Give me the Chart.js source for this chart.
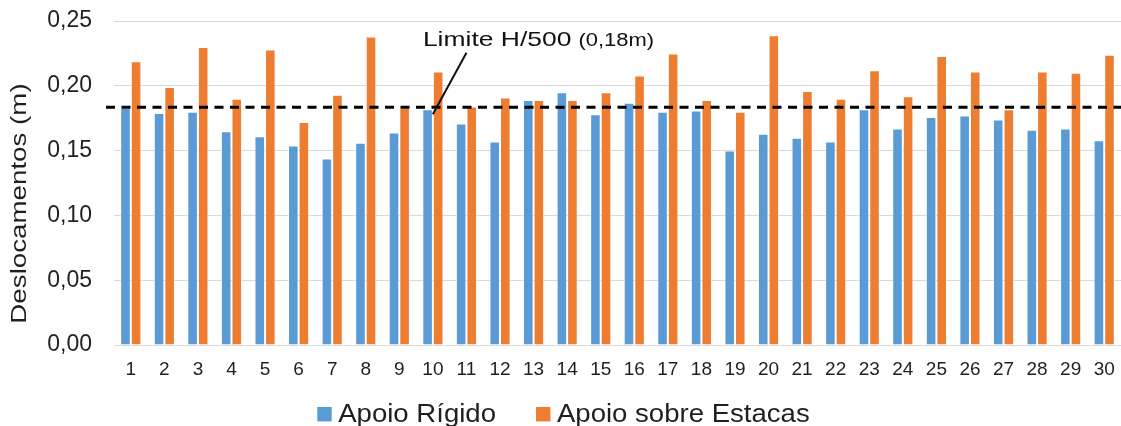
<!DOCTYPE html>
<html lang="pt">
<head>
<meta charset="utf-8">
<title>Deslocamentos</title>
<script src="https://cdn.jsdelivr.net/npm/chart.js@4.4.1/dist/chart.umd.min.js"></script>
<style>
  html, body { margin: 0; padding: 0; background: #ffffff; }
  #wrap { width: 1121px; height: 426px; position: relative; }
</style>
</head>
<body>
<div id="wrap"><canvas id="chart"></canvas></div>
<script>
// Pórticos analisados (1 a 30)
const categories = ['1','2','3','4','5','6','7','8','9','10','11','12','13','14','15',
                    '16','17','18','19','20','21','22','23','24','25','26','27','28','29','30'];

// Deslocamento no topo (m) – apoio rígido
const apoioRigido = [0.183, 0.179, 0.180, 0.165, 0.161, 0.154, 0.144, 0.156, 0.164, 0.182,
                     0.171, 0.157, 0.189, 0.195, 0.178, 0.187, 0.180, 0.181, 0.150, 0.163,
                     0.160, 0.157, 0.182, 0.167, 0.176, 0.177, 0.174, 0.166, 0.167, 0.158];

// Deslocamento no topo (m) – apoio sobre estacas
const apoioEstacas = [0.219, 0.199, 0.230, 0.190, 0.228, 0.172, 0.193, 0.238, 0.183, 0.211,
                      0.184, 0.191, 0.189, 0.189, 0.195, 0.208, 0.225, 0.189, 0.180, 0.239,
                      0.196, 0.190, 0.212, 0.192, 0.223, 0.211, 0.182, 0.211, 0.210, 0.224];

// Rótulos do eixo vertical
const yTickLabels = ['0,00', '0,05', '0,10', '0,15', '0,20', '0,25'];

// Limite de deslocamento H/500
const limiteH500 = 0.1835;
const limiteTexto = 'Limite H/500';
const limiteValor = '(0,18m)';
const yTitle = 'Deslocamentos (m)';

const FONT = "'Liberation Sans', Arial, sans-serif";
const TEXT_COLOR = '#1f1f1f';

// Texto com largura de glifo alargada (sx = fator horizontal)
function wideText(ctx, text, x, y, size, sx, align) {
  ctx.save();
  ctx.font = size + 'px ' + FONT;
  ctx.textAlign = align || 'left';
  ctx.textBaseline = 'alphabetic';
  ctx.translate(x, y);
  ctx.scale(sx, 1);
  ctx.fillText(text, 0, 0);
  const w = ctx.measureText(text).width * sx;
  ctx.restore();
  return w;
}

// Linha limite, chamada, título do eixo e legenda
const extras = {
  id: 'extras',
  afterDatasetsDraw(chart) {
    const { ctx, chartArea, scales: { x, y } } = chart;
    const yl = y.getPixelForValue(limiteH500);

    ctx.save();
    ctx.strokeStyle = '#000000';
    ctx.lineWidth = 3;
    ctx.setLineDash([9, 6.5]);
    ctx.beginPath();
    ctx.moveTo(chartArea.left - 8, yl);
    ctx.lineTo(chartArea.right, yl);
    ctx.stroke();

    // linha de chamada até o pórtico 10
    ctx.setLineDash([]);
    ctx.lineWidth = 2;
    ctx.strokeStyle = '#111111';
    ctx.beginPath();
    ctx.moveTo(x.getPixelForValue(10), y.getPixelForValue(0.2255));
    ctx.lineTo(x.getPixelForValue(9), y.getPixelForValue(0.178));
    ctx.stroke();
    ctx.restore();

    // texto da chamada
    ctx.save();
    ctx.fillStyle = '#111111';
    const tx = x.getPixelForValue(9) - 10;
    const ty = y.getPixelForValue(0.2305);
    const w1 = wideText(ctx, limiteTexto, tx, ty, 21, 1.26);
    wideText(ctx, limiteValor, tx + w1 + 7, ty, 18, 1.22);
    ctx.restore();
  },
  afterDraw(chart) {
    const { ctx, chartArea } = chart;

    // título do eixo vertical
    ctx.save();
    ctx.fillStyle = TEXT_COLOR;
    ctx.font = '22px ' + FONT;
    ctx.translate(25.7, (chartArea.top + chartArea.bottom) / 2 + 20.5);
    ctx.rotate(-Math.PI / 2);
    ctx.scale(1.26, 1);
    ctx.textAlign = 'center';
    ctx.textBaseline = 'alphabetic';
    ctx.fillText(yTitle, 0, 0);
    ctx.restore();

    // legenda
    const size = 26, sx = 1.06, box = 14.4, gapBox = 6.5, gapItem = 40;
    const items = chart.data.datasets.map(ds => ({ label: ds.label, color: ds.backgroundColor }));
    ctx.save();
    ctx.font = size + 'px ' + FONT;
    const widths = items.map(it => ctx.measureText(it.label).width * sx);
    ctx.restore();
    const total = widths.reduce((s, w) => s + box + gapBox + w, 0) + gapItem * (items.length - 1);
    let px = chart.width / 2 + 3 - total / 2;
    const boxTop = chart.height - 19;
    const baseline = chart.height - 4.5;
    items.forEach((it, i) => {
      ctx.save();
      ctx.fillStyle = it.color;
      ctx.fillRect(px, boxTop, box, box);
      ctx.fillStyle = TEXT_COLOR;
      wideText(ctx, it.label, px + box + gapBox, baseline, size, sx);
      ctx.restore();
      px += box + gapBox + widths[i] + gapItem;
    });
  }
};

new Chart(document.getElementById('chart'), {
  type: 'bar',
  data: {
    labels: categories,
    datasets: [
      {
        label: 'Apoio Rígido',
        data: apoioRigido,
        backgroundColor: '#5B9BD5',
        borderColor: 'rgba(255,255,255,0.45)',
        borderWidth: 1,
        borderSkipped: 'start',
        categoryPercentage: 0.63,
        barPercentage: 1.0
      },
      {
        label: 'Apoio sobre Estacas',
        data: apoioEstacas,
        backgroundColor: '#ED7D31',
        borderColor: 'rgba(255,255,255,0.45)',
        borderWidth: 1,
        borderSkipped: 'start',
        categoryPercentage: 0.63,
        barPercentage: 1.0
      }
    ]
  },
  options: {
    responsive: true,
    maintainAspectRatio: false,
    devicePixelRatio: 1,
    animation: false,
    events: [],
    layout: { padding: { top: 21, right: 0, bottom: 0, left: 0 } },
    plugins: {
      legend: { display: false },
      tooltip: { enabled: false },
      title: { display: false }
    },
    scales: {
      x: {
        offset: true,
        grid: { display: false, drawTicks: false },
        border: { display: true, color: '#D9D9D9', width: 1 },
        ticks: {
          color: TEXT_COLOR,
          font: { family: FONT, size: 19 },
          padding: 13,
          maxRotation: 0,
          autoSkip: false
        },
        afterFit(scale) {
          scale.height = 81;
          scale.paddingLeft = 0;
          scale.paddingRight = 0;
        }
      },
      y: {
        min: 0,
        max: 0.25,
        grid: { color: '#D9D9D9', lineWidth: 1, drawTicks: false },
        border: { display: false },
        ticks: {
          stepSize: 0.05,
          color: TEXT_COLOR,
          font: { family: FONT, size: 23 },
          padding: 22,
          callback: (value, index) => yTickLabels[index]
        },
        afterFit(scale) {
          scale.width = 114;
          scale.paddingTop = 0;
          scale.paddingBottom = 0;
        }
      }
    }
  },
  plugins: [extras]
});
</script>
</body>
</html>
